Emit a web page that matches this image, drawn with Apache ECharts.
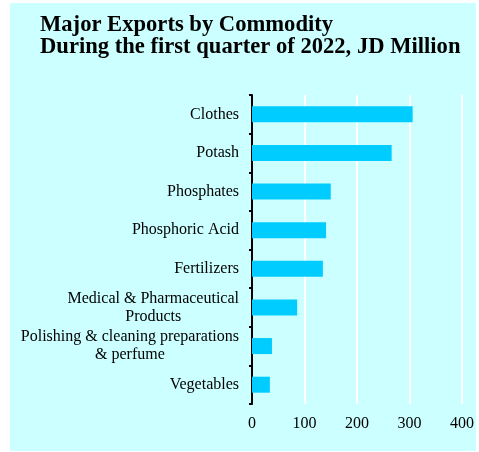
<!DOCTYPE html>
<html>
<head>
<meta charset="utf-8">
<script src="https://cdn.jsdelivr.net/npm/echarts@6/dist/echarts.min.js"></script>
<style>
  html, body { margin: 0; padding: 0; background: #ffffff; }
  #chart { width: 479px; height: 452px; }
</style>
</head>
<body>
<div id="chart"></div>
<script>
// Commodity names (multi-line ones split with \n), top to bottom
const categories = [
  'Clothes',
  'Potash',
  'Phosphates',
  'Phosphoric Acid',
  'Fertilizers',
  'Medical & Pharmaceutical\nProducts',
  'Polishing & cleaning preparations\n& perfume',
  'Vegetables'
];
// Export value, JD million
const exportValues = [306, 266, 150, 141, 135, 86, 38, 34];
// Value axis ticks
const valueTicks = [0, 100, 200, 300, 400];

const SERIF = '"Liberation Serif", "Times New Roman", serif';

const chart = echarts.init(document.getElementById('chart'), null, { renderer: 'canvas' });

chart.setOption({
  animation: false,
  backgroundColor: '#ffffff',
  graphic: [{
    type: 'rect',
    z: -10,
    silent: true,
    shape: { x: 10, y: 3, width: 466, height: 448 },
    style: { fill: '#ccffff' }
  }],
  title: {
    text: 'Major Exports by Commodity\nDuring the first quarter of 2022, JD Million',
    left: 40,
    top: 14,
    padding: 0,
    textStyle: {
      fontFamily: SERIF,
      fontWeight: 'bold',
      fontSize: 22.6,
      lineHeight: 22,
      color: '#000000'
    }
  },
  grid: {
    left: 252,
    top: 95,
    width: 210,
    height: 309,
    containLabel: false
  },
  xAxis: {
    type: 'value',
    min: valueTicks[0],
    max: valueTicks[valueTicks.length - 1],
    interval: 100,
    axisLine: { show: false },
    axisTick: { show: false },
    splitLine: { show: true, lineStyle: { color: '#ffffff', width: 2 } },
    axisLabel: {
      margin: 12,
      fontFamily: SERIF,
      fontSize: 16,
      color: '#000000'
    }
  },
  yAxis: {
    type: 'category',
    inverse: true,
    data: categories,
    axisLine: { show: true, lineStyle: { color: '#000000', width: 2 } },
    axisTick: { show: true, length: 3, lineStyle: { color: '#000000', width: 2 } },
    splitLine: { show: false },
    axisLabel: {
      margin: 13,
      fontFamily: SERIF,
      fontSize: 16,
      color: '#000000',
      formatter: function (v) {
        return v.split('\n').map(function (line) { return '{c|' + line + '}'; }).join('\n');
      },
      rich: {
        c: {
          fontFamily: SERIF,
          fontSize: 16,
          lineHeight: 18,
          color: '#000000',
          align: 'center'
        }
      }
    }
  },
  series: [{
    type: 'bar',
    data: exportValues,
    barWidth: 16,
    itemStyle: { color: '#00ccff' }
  }]
});
</script>
</body>
</html>
